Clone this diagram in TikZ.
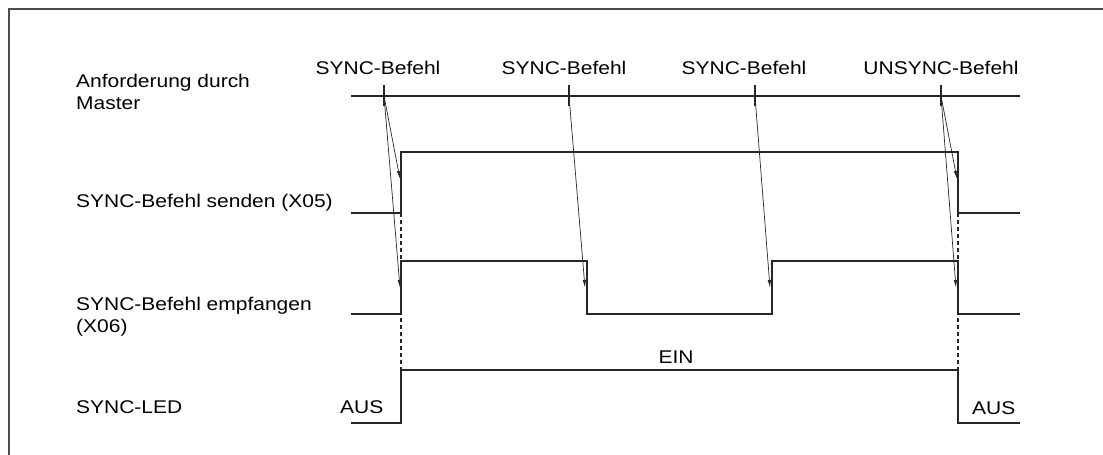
\documentclass[tikz,border=0pt]{standalone}
\usepackage{fontspec}
\setmainfont{Liberation Sans}[FakeStretch=1.14]
\usepackage{tikz}
\usetikzlibrary{arrows.meta, positioning}

\begin{document}
\begin{tikzpicture}[
        x=1pt, y=-1pt,
        every node/.style={font=\fontsize{18.4}{21.5}\selectfont},
        etikett/.style={anchor=base west, align=left, inner sep=0pt},
        befehl/.style={anchor=base, inner sep=0pt},
        signal/.style={line width=1.7pt, draw=black!85},
        marke/.style={line width=1.3pt, draw=black!85},
        pfeil/.style={-{Latex[length=8pt, width=3.4pt]}, line width=0.7pt, draw=black!85},
        hilfslinie/.style={dash pattern=on 4pt off 3pt, line width=1.1pt, draw=black!85},
        rahmen/.style={line width=1.3pt, draw=black!70}
    ]
    \useasboundingbox (0,0) rectangle (1103,455);

% --- Rahmen ---
        \draw[rahmen] (9,455) -- (9,9) -- (1103,9);

% --- Beschriftungen links ---
        \node[etikett] (master) at (76,109) {Anforderung durch\\Master};
        \node[etikett] (x05) at (76,207) {SYNC-Befehl senden (X05)};
        \node[etikett] (x06) at (76,332) {SYNC-Befehl empfangen\\(X06)};
        \node[etikett] (led) at (76,413) {SYNC-LED};

% --- Befehle vom Master ---
        \coordinate (t1) at (384,96);
        \coordinate (t2) at (569,96);
        \coordinate (t3) at (755,96);
        \coordinate (t4) at (941,96);

        \node[befehl] (b1) at (378,74) {SYNC-Befehl};
        \node[befehl] (b2) at (564,74) {SYNC-Befehl};
        \node[befehl] (b3) at (744,74) {SYNC-Befehl};
        \node[befehl] (b4) at (941,74) {UNSYNC-Befehl};

        \draw[signal] (351,96) -- (1020,96);
        \foreach \t in {t1,t2,t3,t4}
            \draw[marke] (\t) ++(0,-11) -- ++(0,21);

% --- Signalverlaeufe ---
        \draw[signal] (351,213) -| (401,152) -| (958,213) -- (1020,213);
        \draw[signal] (351,314) -| (401,261) -| (587,314) -| (772,261) -| (958,314) -- (1020,314);
        \draw[signal] (351,423) -| (401,370) -| (958,423) -- (1020,423);

        \draw[hilfslinie] (401,213) -- (401,370);
        \draw[hilfslinie] (958,213) -- (958,370);

%--------- Zustaende der LED -------------------
        \node[etikett] (aus1) at (340,413) {AUS};
        \node[befehl] (ein) at (676,363) {EIN};
        \node[etikett] (aus2) at (972,414) {AUS};

% --- Pfeile zu den Flanken ---
        \coordinate (z05a) at (400,179);
        \coordinate (z06a) at (400,288);
        \coordinate (z06b) at (585,288);
        \coordinate (z06c) at (770,288);
        \coordinate (z05b) at (957,179);
        \coordinate (z06d) at (956,288);

        \draw[pfeil] (t1) -- (z05a);
        \draw[pfeil] (t1) -- (z06a);
        \draw[pfeil] (t2) -- (z06b);
        \draw[pfeil] (t3) -- (z06c);
        \draw[pfeil] (t4) -- (z05b);
        \draw[pfeil] (t4) -- (z06d);
    \end{tikzpicture}
\end{document}
